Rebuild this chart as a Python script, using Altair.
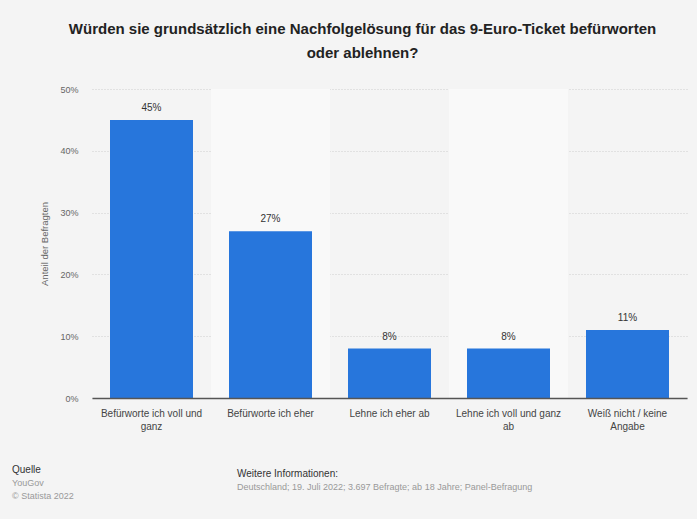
import altair as alt
import pandas as pd

categories = [
    "Befürworte ich voll und ganz",
    "Befürworte ich eher",
    "Lehne ich eher ab",
    "Lehne ich voll und ganz ab",
    "Weiß nicht / keine Angabe",
]
values = [45, 27, 8, 8, 11]
label_lines = [
    ["Befürworte ich voll und", "ganz"],
    ["Befürworte ich eher"],
    ["Lehne ich eher ab"],
    ["Lehne ich voll und ganz", "ab"],
    ["Weiß nicht / keine", "Angabe"],
]
shaded = [False, True, False, True, False]
y_ticks = [0, 10, 20, 30, 40, 50]

title_lines = [
    "Würden sie grundsätzlich eine Nachfolgelösung für das 9-Euro-Ticket befürworten",
    "oder ablehnen?",
]

FONT = "Liberation Sans"

df = pd.DataFrame({"cat": categories, "val": values, "shade": shaded})
df["lbl"] = [f"{v}%" for v in values]

expr_parts = []
for c, lines in zip(categories, label_lines):
    arr = "[" + ",".join("'" + l + "'" for l in lines) + "]"
    expr_parts.append(f"datum.label == '{c}' ? {arr} : ")
label_expr = "".join(expr_parts) + "datum.label"

xenc = alt.X(
    "cat:N",
    sort=categories,
    title=None,
    scale=alt.Scale(paddingInner=0, paddingOuter=0),
    axis=alt.Axis(
        labelExpr=label_expr,
        labelAngle=0,
        labelFont=FONT,
        labelFontSize=10,
        labelColor="#444",
        labelPadding=10,
        labelLineHeight=13,
        ticks=False,
        domainColor="#555",
        domainWidth=1.5,
        labelLimit=200,
    ),
)

bands = alt.Chart(df).transform_filter("datum.shade").mark_rect(color="#f9f9f9").encode(
    x=xenc,
    y=alt.value(0),
    y2=alt.value(309),
)

bars = alt.Chart(df).mark_bar(color="#2776dc", size=83).encode(
    x=xenc,
    y=alt.Y(
        "val:Q",
        title="Anteil der Befragten",
        scale=alt.Scale(domain=[0, 50], nice=False),
        axis=alt.Axis(
            values=y_ticks,
            labelExpr="datum.value + '%'",
            labelFont=FONT,
            labelFontSize=9,
            labelColor="#666",
            labelPadding=14,
            ticks=False,
            domain=False,
            grid=True,
            gridColor="#cfcfcf",
            gridDash=[1, 2],
            titleFont=FONT,
            titleFontSize=9.5,
            titleFontWeight="normal",
            titleColor="#666",
            titlePadding=10,
        ),
    ),
)

text = bars.mark_text(dy=-12, font=FONT, fontSize=10, color="#333").encode(text="lbl:N")

footer = pd.DataFrame({
    "t": ["Quelle", "YouGov", "© Statista 2022", "Weitere Informationen:",
          "Deutschland; 19. Juli 2022; 3.697 Befragte; ab 18 Jahre; Panel-Befragung"],
    "x": [-80, -80, -80, 145, 145],
    "y": [381, 394, 407, 385, 398],
    "c": ["#333", "#999", "#999", "#333", "#999"],
    "s": [10, 9, 9, 10, 9],
})

footer_layers = []
for _, r in footer.iterrows():
    footer_layers.append(
        alt.Chart(pd.DataFrame({"t": [r["t"]]})).mark_text(
            align="left", baseline="middle", font=FONT, fontSize=float(r["s"]), color=r["c"]
        ).encode(text="t:N", x=alt.value(int(r["x"])), y=alt.value(int(r["y"])))
    )

chart = alt.layer(bands, bars, text, *footer_layers).properties(
    width=595,
    height=309,
    background="#f4f4f4",
    padding={"left": 92, "top": 89, "right": 10, "bottom": 121},
    autosize=alt.AutoSizeParams(type="none"),
    title=alt.TitleParams(
        text=title_lines,
        font=FONT,
        fontSize=15,
        fontWeight="bold",
        color="#222",
        anchor="middle",
        dx=-27,
        offset=24,
        lineHeight=24,
    ),
).configure_view(stroke=None)

chart.save("out.html", embed_options={"renderer": "svg", "actions": False})
